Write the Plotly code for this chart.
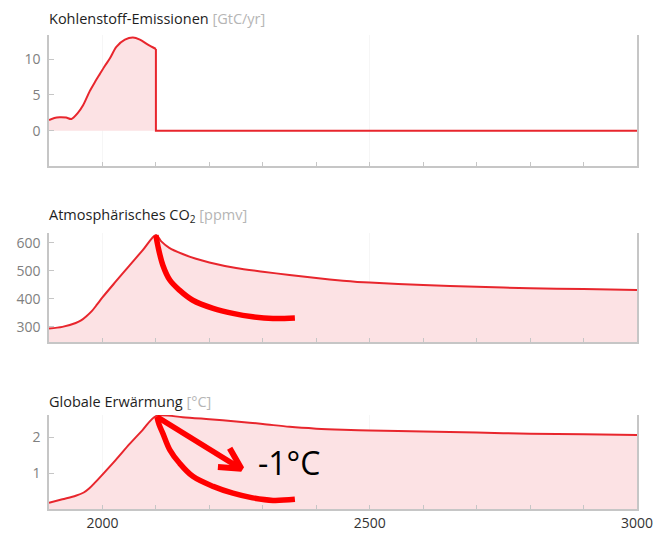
import plotly.graph_objects as go

# ---------------- data ----------------
years_emis = [1900, 1910, 1920, 1932, 1942, 1954, 1964, 1976, 1986, 1995, 2005, 2014, 2026, 2042, 2057, 2070, 2085, 2100, 2100, 3000]
emissions = [1.5, 1.8, 1.9, 1.85, 1.65, 2.5, 3.6, 5.5, 6.8, 7.9, 9.1, 10.1, 11.7, 12.7, 13.0, 12.7, 12.0, 11.4, 0.0, 0.0]

years_co2 = [1900, 1925, 1950, 1960, 1970, 1980, 1990, 2000, 2025, 2050, 2075, 2100,
             2110, 2125, 2150, 2175, 2200, 2250, 2300, 2350, 2400, 2450, 2500, 2600, 2700, 2800, 2900, 3000]
co2 = [294, 300, 314, 323, 338, 356, 380, 405, 462, 518, 573, 628,
       605, 582, 560, 543, 530, 510, 497, 485, 474, 465, 458, 449, 443, 438, 435, 432]

years_temp = [1900, 1925, 1950, 1965, 1975, 1985, 2000, 2025, 2050, 2075, 2100,
              2150, 2200, 2250, 2300, 2350, 2400, 2450, 2500, 2600, 2700, 2800, 2900, 3000]
temp = [0.17, 0.27, 0.37, 0.46, 0.57, 0.72, 0.96, 1.37, 1.80, 2.20, 2.59,
        2.56, 2.50, 2.44, 2.37, 2.29, 2.24, 2.21, 2.19, 2.16, 2.13, 2.10, 2.08, 2.06]

# hand-drawn overlays
sketch_co2_years = [2100, 2104, 2113, 2126, 2144, 2169, 2207, 2244, 2281, 2319, 2360]
sketch_co2 = [627, 586, 520, 467, 431, 395, 366, 348, 336, 330, 332]

sketch_temp_years = [2102, 2106, 2113, 2126, 2144, 2169, 2207, 2244, 2281, 2319, 2360]
sketch_temp = [2.57, 2.35, 2.11, 1.65, 1.28, 0.91, 0.63, 0.44, 0.31, 0.24, 0.27]

arrow_years = [2102, 2258]
arrow_temp = [2.57, 1.13]
arrowhead_years = [2238, 2260, 2216]
arrowhead_temp = [1.69, 1.12, 1.17]

label_year = 2349
label_temp = 1.31
label_text = "-1°C"

titles = [
    "Kohlenstoff-Emissionen <span style='color:#b5b5b5'>[GtC/yr]</span>",
    "Atmosphärisches CO<sub>2</sub> <span style='color:#b5b5b5'>[ppmv]</span>",
    "Globale Erwärmung <span style='color:#b5b5b5'>[°C]</span>",
]

# ---------------- style ----------------
W, H = 656, 534
ML, MR, MT, MB = 49, 19, 0, 25
PH = H - MT - MB
LINE = "#e8262d"
FILL = "#fce2e4"
AX = "#c6c6c6"
FONT = "Open Sans"


def dom(top_px, bot_px):
    return [max(0.0, 1 - bot_px / PH), 1 - top_px / PH]


fig = go.Figure()

# emissions: smooth part up to the stop, then the drop and the flat zero line
cut = years_emis.index(2100) + 1
fig.add_trace(go.Scatter(x=years_emis[:cut], y=emissions[:cut], mode="lines",
                         line=dict(color=LINE, width=2, shape="spline", smoothing=0.8),
                         fill="tozeroy", fillcolor=FILL, xaxis="x", yaxis="y"))
fig.add_trace(go.Scatter(x=years_emis[cut - 1:], y=emissions[cut - 1:], mode="lines",
                         line=dict(color=LINE, width=2), xaxis="x", yaxis="y"))

fig.add_trace(go.Scatter(x=years_co2, y=co2, mode="lines", line=dict(color=LINE, width=2, shape="spline", smoothing=0.8),
                         fill="tozeroy", fillcolor=FILL, xaxis="x2", yaxis="y2"))
fig.add_trace(go.Scatter(x=years_temp, y=temp, mode="lines", line=dict(color=LINE, width=2, shape="spline", smoothing=0.8),
                         fill="tozeroy", fillcolor=FILL, xaxis="x3", yaxis="y3"))

RED = "#ff0000"
fig.add_trace(go.Scatter(x=sketch_co2_years, y=sketch_co2, mode="lines", line=dict(color=RED, width=5.5, shape="spline"),
                         xaxis="x2", yaxis="y2"))
fig.add_trace(go.Scatter(x=sketch_temp_years, y=sketch_temp, mode="lines", line=dict(color=RED, width=5.5, shape="spline"),
                         xaxis="x3", yaxis="y3"))
fig.add_trace(go.Scatter(x=arrow_years, y=arrow_temp, mode="lines", line=dict(color=RED, width=5.5),
                         xaxis="x3", yaxis="y3"))
fig.add_trace(go.Scatter(x=arrowhead_years, y=arrowhead_temp, mode="lines", line=dict(color=RED, width=6),
                         xaxis="x3", yaxis="y3"))

xcommon = dict(range=[1900, 3000], showline=True, linecolor=AX, linewidth=1.5,
               ticks="inside", ticklen=4, tickcolor=AX, tick0=2000, dtick=500,
               minor=dict(dtick=100, tick0=2000, ticks="inside", ticklen=4, tickcolor=AX, showgrid=False),
               showgrid=True, gridcolor="#f6f6f6", gridwidth=1, zeroline=False,
               tickfont=dict(family=FONT, size=14, color="#333333"))
ycommon = dict(showline=True, mirror=True, linecolor=AX, linewidth=1.5, ticks="inside", ticklen=5,
               tickcolor=AX, showgrid=False, zeroline=False, ticklabelstandoff=4,
               tickfont=dict(family=FONT, size=14, color="#808080"))

fig.update_layout(
    width=W, height=H, margin=dict(l=ML, r=MR, t=MT, b=MB),
    paper_bgcolor="white", plot_bgcolor="white", showlegend=False,
    xaxis=dict(xcommon, anchor="y", showticklabels=False),
    xaxis2=dict(xcommon, anchor="y2", showticklabels=False, matches="x"),
    xaxis3=dict(xcommon, anchor="y3", showticklabels=True, matches="x"),
    yaxis=dict(ycommon, domain=dom(35, 166), range=[-4.9, 13.35], tickvals=[0, 5, 10], anchor="x"),
    yaxis2=dict(ycommon, domain=dom(233, 342), range=[246, 635], tickvals=[300, 400, 500, 600], anchor="x2"),
    yaxis3=dict(ycommon, domain=dom(415, 509), range=[0, 2.62], tickvals=[1, 2], anchor="x3"),
)

title_centers = [19, 216, 401]
for t, cy in zip(titles, title_centers):
    fig.add_annotation(text=t, xref="paper", yref="paper", x=0, y=1 - cy / PH, xanchor="left",
                       yanchor="middle", showarrow=False, xshift=-2,
                       font=dict(family=FONT, size=14.5, color="#1e1e1e"))

fig.add_annotation(text=label_text, xref="x3", yref="y3", x=label_year, y=label_temp, showarrow=False,
                   xanchor="center", yanchor="middle", font=dict(family=FONT, size=32, color="#000000"))

fig.write_html("out.html")
